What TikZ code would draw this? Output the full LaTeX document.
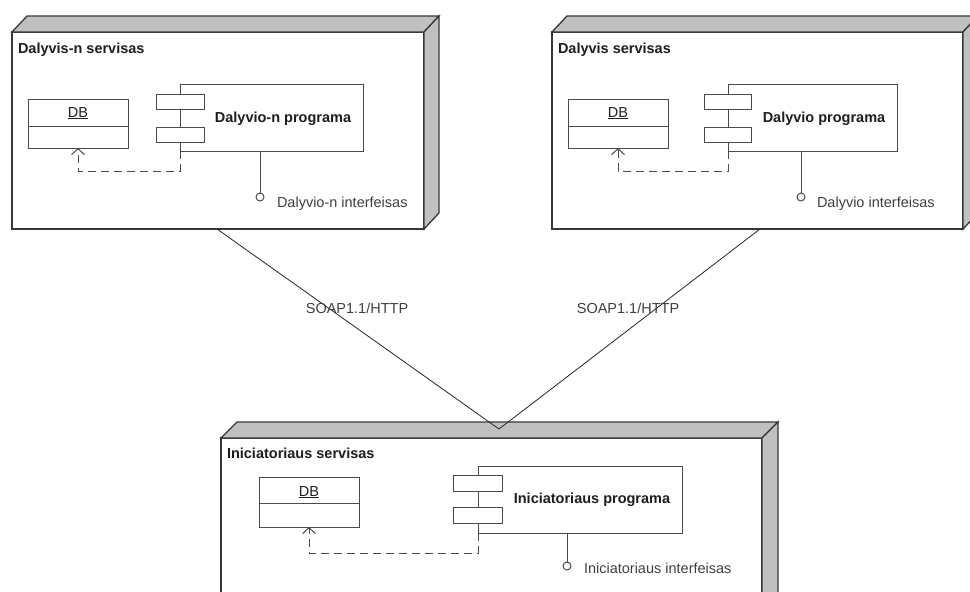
\documentclass[tikz,border=0pt]{standalone}
\usepackage{fontspec}
\setmainfont{Liberation Sans}
\usetikzlibrary{arrows.meta}
\definecolor{ln}{HTML}{383838}
\definecolor{cln}{HTML}{4A4A4A}
\definecolor{side}{HTML}{C0C0C0}
\definecolor{txt}{HTML}{1E1E1E}
\newcommand\threedbox[6]{%
  % #1 name, #2 x1, #3 y1, #4 x2, #5 y2, #6 depth
  \node[frontbox, minimum width={(#4-#2)*1pt}, minimum height={(#5-#3)*1pt}] (#1) at (#2,#3) {};
  \draw[facebox] (#1.north west) -- ++(#6,-16) -- ([shift={(#6,-16)}]#1.north east) -- (#1.north east) -- cycle;
  \draw[facebox] (#1.north east) -- ++(#6,-16) -- ([shift={(#6,-16)}]#1.south east) -- (#1.south east) -- cycle;
}
\begin{document}
\begin{tikzpicture}[x=1pt,y=-1pt,
  every node/.style={inner sep=0pt, outer sep=0pt, font=\fontsize{14.5}{17}\selectfont, text=txt},
  frontbox/.style={draw=ln, line width=1.3pt, fill=white, rectangle, anchor=north west},
  facebox/.style={draw=ln, line width=1.3pt, fill=side, line join=miter},
  title/.style={anchor=base west, font=\fontsize{14.5}{17}\selectfont\bfseries},
  plain/.style={draw=cln, line width=1pt, fill=white, rectangle, anchor=north west},
  lbl/.style={anchor=base, font=\fontsize{14.5}{17}\selectfont\bfseries},
  itxt/.style={anchor=base west, text=txt!85},
  dep/.style={draw=cln, line width=1pt, dash pattern=on 8pt off 5pt, -{Straight Barb[length=6pt,width=13pt]}},
  link/.style={draw=black!85, line width=0.8pt},
  iface/.style={draw=cln, line width=1pt},
]
\useasboundingbox (0,0) rectangle (970,592);
\fill[white] (0,0) rectangle (970,592);

% ---------- Box 1 ----------
\threedbox{n1}{12}{32}{424}{229}{15}
\node[title] (t1) at (18,53) {Dalyvis-n servisas};
\node[plain, minimum width=100pt, minimum height=49pt] (db1) at (28,99) {};
\draw[cln, line width=1pt] (28,126) -- (128,126);
\node[anchor=base] (db1t) at (78,117) {\underline{DB}};
\node[plain, minimum width=183pt, minimum height=67pt] (c1) at (180,84) {};
\node[plain, minimum width=48pt, minimum height=15pt] (c1a) at (156,94) {};
\node[plain, minimum width=48pt, minimum height=15pt] (c1b) at (156,127) {};
\node[lbl] (c1t) at (283,122) {Dalyvio-n programa};
\coordinate (c1d) at (180,171);
\draw[dep] (c1.south west) -- (c1d) -| (db1.south);
\node[circle, draw=cln, line width=1pt, minimum size=8pt] (i1) at (260,197) {};
\draw[iface] (c1.south west -| i1) -- (i1.north);
\node[itxt] (i1t) at (277,207) {Dalyvio-n interfeisas};

% ---------- Box 2 ----------
\threedbox{n2}{552}{32}{963}{229}{15}
\node[title] (t2) at (558,53) {Dalyvis servisas};
\node[plain, minimum width=100pt, minimum height=49pt] (db2) at (568,99) {};
\draw[cln, line width=1pt] (568,126) -- (668,126);
\node[anchor=base] (db2t) at (618,117) {\underline{DB}};
\node[plain, minimum width=169pt, minimum height=67pt] (c2) at (728,84) {};
\node[plain, minimum width=47pt, minimum height=15pt] (c2a) at (704,94) {};
\node[plain, minimum width=47pt, minimum height=15pt] (c2b) at (704,127) {};
\node[lbl] (c2t) at (824,122) {Dalyvio programa};
\coordinate (c2d) at (728,171);
\draw[dep] (c2.south west) -- (c2d) -| (db2.south);
\node[circle, draw=cln, line width=1pt, minimum size=8pt] (i2) at (801,197) {};
\draw[iface] (c2.south west -| i2) -- (i2.north);
\node[itxt] (i2t) at (817,207) {Dalyvio interfeisas};

% ---------- Box 3 ----------
\threedbox{n3}{221}{438}{762}{620}{16}
\node[title] (t3) at (227,458) {Iniciatoriaus servisas};
\node[plain, minimum width=100pt, minimum height=50pt] (db3) at (259,477) {};
\draw[cln, line width=1pt] (259,503) -- (359,503);
\node[anchor=base] (db3t) at (309,496) {\underline{DB}};
\node[plain, minimum width=204pt, minimum height=67pt] (c3) at (478,466) {};
\node[plain, minimum width=49pt, minimum height=16pt] (c3a) at (453,475) {};
\node[plain, minimum width=49pt, minimum height=16pt] (c3b) at (453,507) {};
\node[lbl] (c3t) at (592,503) {Iniciatoriaus programa};
\coordinate (c3d) at (478,553);
\draw[dep] (c3.south west) -- (c3d) -| (db3.south);
\node[circle, draw=cln, line width=1pt, minimum size=8pt] (i3) at (567,566) {};
\draw[iface] (c3.south west -| i3) -- (i3.north);
\node[itxt] (i3t) at (584,573) {Iniciatoriaus interfeisas};

% ---------- links ----------
\coordinate (l1) at (217,229);
\coordinate (l2) at (760,229);
\coordinate (apex) at (499,429);
\draw[link] (l1) -- (apex) -- (l2);
\node[anchor=base, text=txt!85] (s1) at (357,313) {SOAP1.1/HTTP};
\node[anchor=base, text=txt!85] (s2) at (628,313) {SOAP1.1/HTTP};
\end{tikzpicture}
\end{document}
